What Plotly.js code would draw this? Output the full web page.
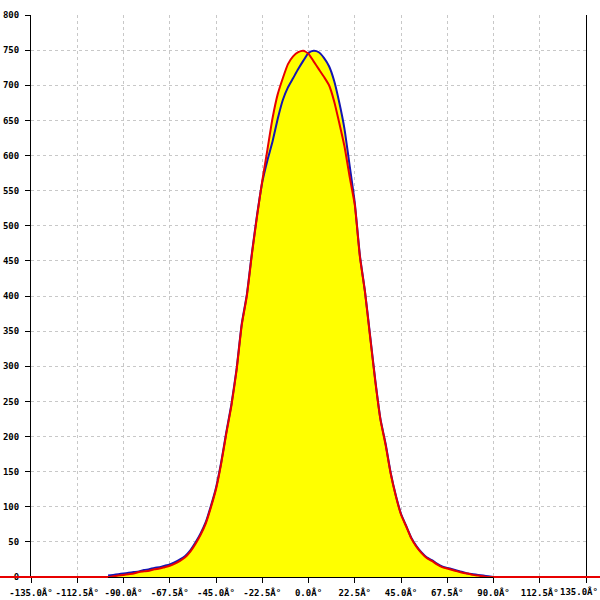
<!DOCTYPE html>
<html>
<head>
<meta charset="utf-8">
<script src="https://cdn.plot.ly/plotly-3.0.1.min.js"></script>
<style>html,body{margin:0;padding:0;background:#fff;}#chart{width:600px;height:600px;}</style>
</head>
<body>
<div id="chart"></div>
<script>
// Angle bins (degrees)
const angles = [-97.5,-95,-92.5,-90,-87.5,-85,-82.5,-80,-77.5,-75,-72.5,-70,-67.5,-65,-62.5,-60,-57.5,-55,-52.5,-50,
  -47.5,-45,-42.5,-40,-37.5,-35,-32.5,-30,-27.5,-25,-22.5,-20,-17.5,-15,-12.5,-10,-7.5,-5,-2.5,0,
  2.5,5,7.5,10,12.5,15,17.5,20,22.5,25,27.5,30,32.5,35,37.5,40,42.5,45,47.5,50,
  52.5,55,57.5,60,62.5,65,67.5,70,72.5,75,77.5,80,82.5,85,87.5,90];

// Blue series
const blueCounts = [2,3,4,5,6,7,8,10,11,13,14,16,18,21,25,30,38,49,62,78,
  101,127,163,206,246,296,360,402,462,516,562,593,620,652,679,697,710,723,735,746,
  749,747,739,727,706,675,638,586,533,458,406,343,280,225,190,148,116,90,73,56,
  44,35,28,24,19,15,13,11,9,7,5,4,3,2,1,0];

// Red series
const redCounts = [0,1,2,3,4,5,7,8,9,11,12,14,16,19,23,28,36,47,60,76,
  99,125,161,204,244,294,358,400,460,514,564,608,653,687,710,730,741,747,749,745,
  734,723,712,700,677,646,613,570,530,456,405,341,278,224,188,147,115,89,72,55,
  43,34,27,23,18,14,12,10,8,6,5,3,2,1,0,0];

// Axis ticks
const xTickVals = [-135,-112.5,-90,-67.5,-45,-22.5,0,22.5,45,67.5,90,112.5,135];
const xTickText = xTickVals.map(v => v.toFixed(1) + "Â°");
const yTickVals = [0,50,100,150,200,250,300,350,400,450,500,550,600,650,700,750,800];

const xMin = -135, xMax = 135;
const redX = [xMin].concat(angles, [xMax]);
const redY = [0].concat(redCounts, [0]);

const lineShape = {shape: 'spline', smoothing: 0.5};

const traces = [
  {x: angles, y: blueCounts, type: 'scatter', mode: 'lines', fill: 'tozeroy',
   fillcolor: '#ffff00', line: Object.assign({width: 0}, lineShape), hoverinfo: 'skip', showlegend: false},
  {x: angles, y: redCounts, type: 'scatter', mode: 'lines', fill: 'tozeroy',
   fillcolor: '#ffff00', line: Object.assign({width: 0}, lineShape), hoverinfo: 'skip', showlegend: false},
  {x: angles, y: blueCounts, type: 'scatter', mode: 'lines',
   line: Object.assign({color: '#1414b4', width: 2}, lineShape), showlegend: false},
  {x: redX, y: redY, type: 'scatter', mode: 'lines',
   line: Object.assign({color: '#e80000', width: 2}, lineShape), showlegend: false}
];

const tickFont = {family: 'DejaVu Sans Mono', size: 9, color: '#000', weight: 'bold'};
const redLine = {color: '#e80000', width: 2};

const shownXText = xTickText.map((t, i) => i === xTickText.length - 1 ? '' : t);

const layout = {
  width: 600, height: 600,
  margin: {l: 31, r: 14, t: 15, b: 23, pad: 0},
  paper_bgcolor: '#fff', plot_bgcolor: '#fff',
  showlegend: false,
  xaxis: {
    range: [xMin, xMax], tickmode: 'array', tickvals: xTickVals, ticktext: shownXText,
    tickangle: 0,
    ticks: 'outside', ticklen: 5, tickcolor: '#000', tickwidth: 1,
    showline: true, linecolor: '#000', linewidth: 1, mirror: false,
    showgrid: true, gridcolor: '#c8c8c8', griddash: '3px,3px', gridwidth: 1,
    zeroline: false, tickfont: tickFont, ticklabelstandoff: 2, fixedrange: true,
    ticklabeloverflow: 'allow'
  },
  yaxis: {
    range: [0, 800], tickmode: 'array', tickvals: yTickVals,
    ticks: 'outside', ticklen: 5, tickcolor: '#000', tickwidth: 1,
    showline: true, linecolor: '#000', linewidth: 1, mirror: true,
    showgrid: true, gridcolor: '#c8c8c8', griddash: '3px,3px', gridwidth: 1,
    zeroline: false, tickfont: tickFont, ticklabelstandoff: 4, fixedrange: true
  },
  annotations: [
    {text: xTickText[xTickText.length - 1], xref: 'paper', yref: 'paper', x: 1, y: 0,
     xanchor: 'right', yanchor: 'top', xshift: 14, yshift: -7, showarrow: false,
     font: tickFont}
  ],
  shapes: [
    {type: 'line', xref: 'paper', yref: 'paper', x0: -0.06, x1: 0, y0: 0, y1: 0, line: redLine, layer: 'above'},
    {type: 'line', xref: 'x', yref: 'paper', x0: xMin, x1: angles[0], y0: 0, y1: 0, line: redLine, layer: 'above'},
    {type: 'line', xref: 'x', yref: 'paper', x0: angles[angles.length - 1], x1: xMax, y0: 0, y1: 0, line: redLine, layer: 'above'},
    {type: 'line', xref: 'paper', yref: 'paper', x0: 1, x1: 1.03, y0: 0, y1: 0, line: redLine, layer: 'above'}
  ]
};

Plotly.newPlot('chart', traces, layout, {displayModeBar: false, staticPlot: true});
</script>
</body>
</html>
